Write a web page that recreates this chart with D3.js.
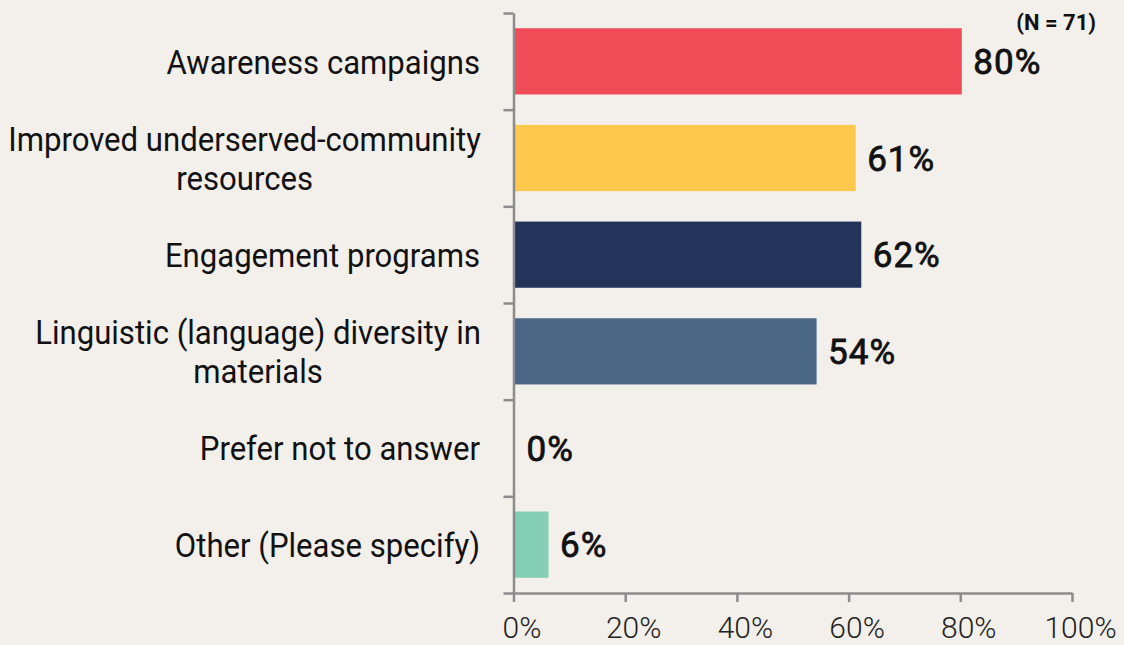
<!DOCTYPE html>
<html>
<head>
<meta charset="utf-8">
<script src="https://cdn.jsdelivr.net/npm/d3@7"></script>
<style>
  html, body { margin: 0; padding: 0; background: #f3efeb; }
  svg { display: block; }
</style>
</head>
<body>
<script>
const categories = [
  "Awareness campaigns",
  "Improved underserved-community resources",
  "Engagement programs",
  "Linguistic (language) diversity in materials",
  "Prefer not to answer",
  "Other (Please specify)"
];
const values = [80, 61, 62, 54, 0, 6];
const colors = ["#f04c58", "#fec84d", "#22345a", "#4a6785", "#84ceb5", "#84ceb5"];
const xTicks = [0, 20, 40, 60, 80, 100];
const note = "(N = 71)";

(function () {
const W = 1124, H = 645;
const svg = d3.select("body").append("svg").attr("width", W).attr("height", H);
svg.append("rect").attr("width", W).attr("height", H).attr("fill", "#f3efeb");

const x = d3.scaleLinear().domain([0, 100]).range([513.5, 1072]);
const plotTop = 13, plotBottom = 593;
const y = d3.scaleBand().domain(categories).range([plotTop, plotBottom]).paddingInner(0.315).paddingOuter(0.1575);
const yb = d3.scaleLinear().domain([0, categories.length]).range([plotTop, plotBottom]);

// bars
svg.append("g").selectAll("rect").data(categories).join("rect")
  .attr("x", x(0))
  .attr("y", d => y(d))
  .attr("width", (d, i) => Math.max(0, x(values[i]) - x(0) + (values[i] > 0 ? 1.5 : 0)))
  .attr("height", y.bandwidth())
  .attr("fill", (d, i) => colors[i]);

// y axis
const yAxis = svg.append("g").attr("transform", `translate(${x(0)},0)`)
  .call(d3.axisLeft(yb).tickValues(d3.range(categories.length + 1)).tickFormat("").tickSize(10).tickSizeOuter(0));
yAxis.selectAll("path, line").attr("stroke", "#8c8c8c").attr("stroke-width", 2.5);

// x axis
const xAxis = svg.append("g").attr("transform", `translate(0,${plotBottom})`)
  .call(d3.axisBottom(x).tickValues(xTicks).tickFormat(d => d + "%").tickSize(9).tickSizeOuter(0).tickPadding(15));
xAxis.selectAll("path, line").attr("stroke", "#8c8c8c").attr("stroke-width", 2.5);
xAxis.selectAll("text").attr("font-family", "Roboto").attr("font-weight", 300)
  .attr("font-size", 30).attr("fill", "#222").attr("dy", "0.71em").attr("dx", 8);

// category labels (condensed)
const sx = 0.915, fs = 34, lh = 39, maxW = 482, rightEdge = 481;
const tmp = svg.append("text").attr("font-family", "Roboto").attr("font-size", fs);
function measure(s) { tmp.text(s); return tmp.node().getComputedTextLength() * sx; }
function wrap(s) {
  const words = s.split(" "); const lines = []; let cur = "";
  words.forEach(w => {
    const t = cur ? cur + " " + w : w;
    if (measure(t) > maxW && cur) { lines.push(cur); cur = w; } else cur = t;
  });
  lines.push(cur); return lines;
}
const wrapped = categories.map(wrap);
const widths = wrapped.map(ls => d3.max(ls, measure));
tmp.remove();

categories.forEach((c, i) => {
  const lines = wrapped[i];
  const cy = y(c) + y.bandwidth() / 2;
  const multi = lines.length > 1;
  const cx = rightEdge - widths[i] / 2;
  lines.forEach((ln, j) => {
    const ly = cy + (j - (lines.length - 1) / 2) * lh;
    svg.append("text")
      .attr("transform", `translate(${multi ? cx : rightEdge - 1},${ly}) scale(${sx},1)`)
      .attr("text-anchor", multi ? "middle" : "end")
      .attr("dy", "0.36em")
      .attr("font-family", "Roboto").attr("font-size", fs).attr("fill", "#111")
      .text(ln);
  });
});

// value labels
svg.append("g").selectAll("text").data(categories).join("text")
  .attr("x", (d, i) => x(values[i]) + 13)
  .attr("y", d => y(d) + y.bandwidth() / 2)
  .attr("dy", "0.36em")
  .attr("font-family", "Roboto").attr("font-weight", 400).attr("font-size", 35)
  .attr("letter-spacing", 1)
  .attr("fill", "#111").attr("stroke", "#111").attr("stroke-width", 0.8)
  .text((d, i) => values[i] + "%");

// note
svg.append("text").attr("x", 1096).attr("y", 30).attr("text-anchor", "end")
  .attr("font-family", "Roboto").attr("font-weight", 700).attr("font-size", 22)
  .attr("fill", "#111").text(note);
})();
</script>
</body>
</html>
